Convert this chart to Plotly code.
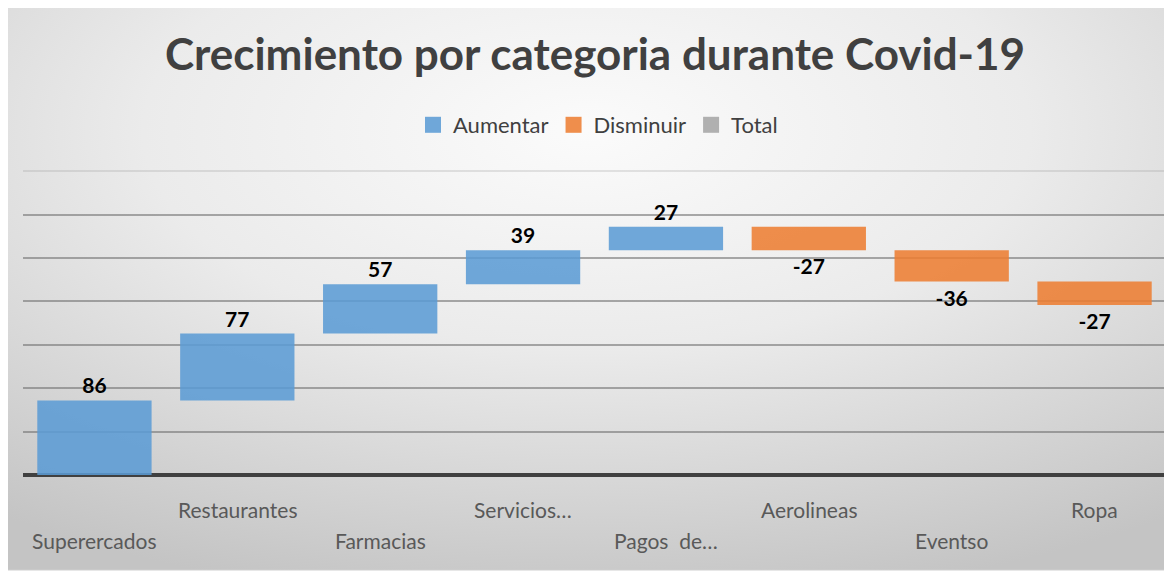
import base64
import plotly.graph_objects as go

categories = ["Superercados", "Restaurantes", "Farmacias", "Servicios…",
              "Pagos  de…", "Aerolineas", "Eventso", "Ropa"]
values = [86, 77, 57, 39, 27, -27, -36, -27]
measures = ["relative"] * len(values)
legend_names = ["Aumentar", "Disminuir", "Total"]
legend_colors = ["rgba(91,155,213,0.87)", "rgba(237,125,49,0.87)",
                 "rgba(165,165,165,0.87)"]
grid_vals = [0, 50, 100, 150, 200, 250, 300]
top_grid = [350]

# the page adds an 8px body margin, so the figure is 8px smaller
W, H = 1164, 569
L, R, T, B = 15, 6, 159, 102
pw, ph = W - L - R, H - T - B
font = "Lato"

# soft radial gradient background like the slide
svg = f"""<svg xmlns='http://www.w3.org/2000/svg' width='{W}' height='{H}' viewBox='0 0 {W} {H}' preserveAspectRatio='none'>
<defs><radialGradient id='g' cx='0.5' cy='0.22' r='0.85'>
<stop offset='0' stop-color='#fbfbfb'/><stop offset='0.45' stop-color='#ebebeb'/>
<stop offset='1' stop-color='#c4c4c4'/></radialGradient></defs>
<rect width='{W}' height='{H}' fill='white'/>
<rect x='-1' y='-1' width='1159' height='563' fill='url(#g)' stroke='#cfcfcf'/>
</svg>"""
bg = "data:image/svg+xml;base64," + base64.b64encode(svg.encode()).decode()

fig = go.Figure()

fig.add_trace(go.Waterfall(
    x=categories,
    y=values,
    measure=measures,
    text=[str(v) for v in values],
    textposition="outside",
    textfont=dict(family=font, size=21, color="black", weight="bold"),
    increasing=dict(marker=dict(color=legend_colors[0])),
    decreasing=dict(marker=dict(color=legend_colors[1])),
    totals=dict(marker=dict(color=legend_colors[2])),
    connector=dict(visible=False),
    cliponaxis=False,
    showlegend=False,
))

for name, color in zip(legend_names, legend_colors):
    fig.add_trace(go.Scatter(
        x=[None], y=[None], mode="markers", name=name,
        marker=dict(symbol="square", size=16, color=color),
    ))

# staggered category labels (two rows like Excel)
for i, cat in enumerate(categories):
    fig.add_annotation(
        x=cat, xref="x", y=-(34 if i % 2 else 65) / ph, yref="paper",
        yanchor="middle", text=cat, showarrow=False,
        font=dict(family=font, size=21, color="#595959"),
    )

fig.update_layout(
    width=W, height=H,
    margin=dict(l=L, r=R, t=T, b=B),
    paper_bgcolor="white",
    plot_bgcolor="rgba(0,0,0,0)",
    waterfallgap=0.2,
    title=dict(text="Crecimiento por categoria durante Covid-19",
               x=587 / W, xanchor="center", y=1 - 47 / H, yanchor="middle",
               font=dict(family=font, size=44, color="#404040", weight="bold")),
    legend=dict(orientation="h", x=(590 - L) / pw, xanchor="center",
                y=1 + (T - 117) / ph, yanchor="middle",
                font=dict(family=font, size=22, color="#404040"),
                bgcolor="rgba(0,0,0,0)"),
    xaxis=dict(showticklabels=False, showgrid=False, zeroline=False,
               showline=False, ticks=""),
    yaxis=dict(range=[0, 355], tickmode="array", tickvals=grid_vals,
               showticklabels=False,
               gridcolor="rgba(115,115,115,0.6)", gridwidth=1.8,
               zeroline=True, zerolinecolor="#404040", zerolinewidth=3.5,
               ticks="",
               minor=dict(tickmode="array", tickvals=top_grid, showgrid=True,
                          gridcolor="rgba(150,150,150,0.25)", gridwidth=1.5,
                          ticks="")),
    images=[dict(source=bg, xref="paper", yref="paper",
                 x=-L / pw, y=1 + T / ph, sizex=W / pw, sizey=H / ph,
                 xanchor="left", yanchor="top", sizing="stretch",
                 layer="below")],
)

fig.write_html("out.html")
